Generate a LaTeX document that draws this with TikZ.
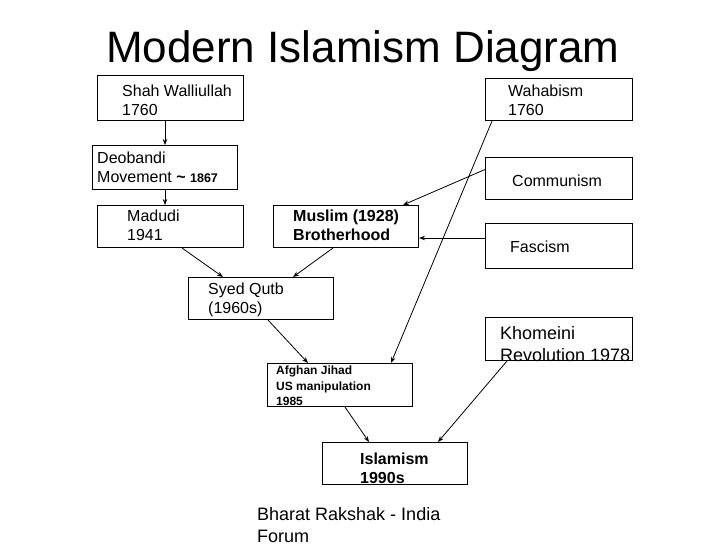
\documentclass[tikz,border=0pt]{standalone}
\usepackage{fontspec}
\setmainfont{Liberation Sans}
\usetikzlibrary{arrows.meta, positioning, calc}

\begin{document}
\begin{tikzpicture}[
    x=1pt, y=-1pt,
    >={Stealth[length=6pt, width=4.5pt]},
    box/.style={draw, line width=1pt, anchor=north west, inner sep=0pt, minimum width=146pt, minimum height=#1},
    box/.default=42pt,
    boxtxt/.style={anchor=north west, inner sep=0pt, align=left, font=\fontsize{16}{19}\selectfont},
    boldtxt/.style={boxtxt, font=\fontsize{16}{19}\selectfont\bfseries},
    smalltxt/.style={boxtxt, font=\fontsize{12}{15.5}\selectfont\bfseries},
    bigtxt/.style={boxtxt, font=\fontsize{18}{22}\selectfont},
    arrow/.style={->, line width=0.8pt},
]
\useasboundingbox (0,0) rectangle (728,546);

% Title
\node[anchor=north west, inner sep=0pt, font=\fontsize{44}{50}\selectfont] (title) at (106,30) {Modern Islamism Diagram};

% Left column
\node[box=45pt] (shah) at (97,75) {};
\node[boxtxt] (shahtxt) at (122,85) {Shah Walliullah\\1760};
\node[box=44pt, minimum width=145pt] (deob) at (92,145) {};
\node[boxtxt] (deobtxt) at (97,152) {Deobandi\\Movement {\bfseries\textasciitilde} {\fontsize{12.5}{19}\selectfont\bfseries 1867}};
\node[box] (madudi) at (97,205) {};
\node[boxtxt] (madudtxt) at (127,210) {Madudi\\1941};
\node[box, minimum width=145pt] (muslim) at (273,205) {};
\node[boldtxt] (muslimtxt) at (293,210) {Muslim (1928)\\Brotherhood};

% Right column
\node[box, minimum width=147pt] (wahab) at (485,78) {};
\node[boxtxt] (wahabtxt) at (508,85) {Wahabism\\1760};
\node[box, minimum width=147pt] (commun) at (485,157) {};
\node[boxtxt] (communtxt) at (512,175) {Communism};
\node[box=45pt, minimum width=147pt] (fascism) at (485,223) {};
\node[boxtxt] (fascismtxt) at (510,241) {Fascism};
\node[box=43pt, minimum width=147pt] (khomeini) at (485,317) {};
\node[bigtxt] (khomeinitxt) at (500,326) {Khomeini\\Revolution 1978};

% Middle chain
\node[box, minimum width=145pt] (syed) at (188,277) {};
\node[boxtxt] (syedtxt) at (208,283) {Syed Qutb\\(1960s)};
\node[box=43pt, minimum width=145pt] (afghan) at (267,363) {};
\node[smalltxt] (afghantxt) at (276,366) {Afghan Jihad\\US manipulation\\1985};
\node[box, minimum width=145pt] (islam) at (322,442) {};
\node[boldtxt] (islamtxt) at (360,453) {Islamism\\1990s};

% Footer
\node[bigtxt] (footer) at (257,507) {Bharat Rakshak - India\\Forum};

% Arrows
\draw[arrow] (shah.south -| deob.north) -- (deob.north);
\draw[arrow] (deob.south) -- (deob.south |- madudi.north);
\draw[arrow] ([xshift=85pt]madudi.south west) -- ([xshift=35pt]syed.north west);
\draw[arrow] ([xshift=60pt]muslim.south west) -- ([xshift=105pt]syed.north west);
\draw[arrow] ([yshift=9pt]commun.west) -- ([xshift=-16pt]muslim.north east);
\draw[arrow] ([yshift=8pt]fascism.west) -- ([yshift=8pt]fascism.west -| muslim.east);
\draw[arrow] ([xshift=7pt]wahab.south west) -- ([xshift=-22pt]afghan.north east);
\draw[arrow] ([xshift=80pt]syed.south west) -- ([xshift=41pt]afghan.north west);
\draw[arrow] ([xshift=78pt]afghan.south west) -- ([xshift=47pt]islam.north west);
\draw[arrow] ([xshift=22pt]khomeini.south west) -- ([xshift=116pt]islam.north west);

\end{tikzpicture}
\end{document}
